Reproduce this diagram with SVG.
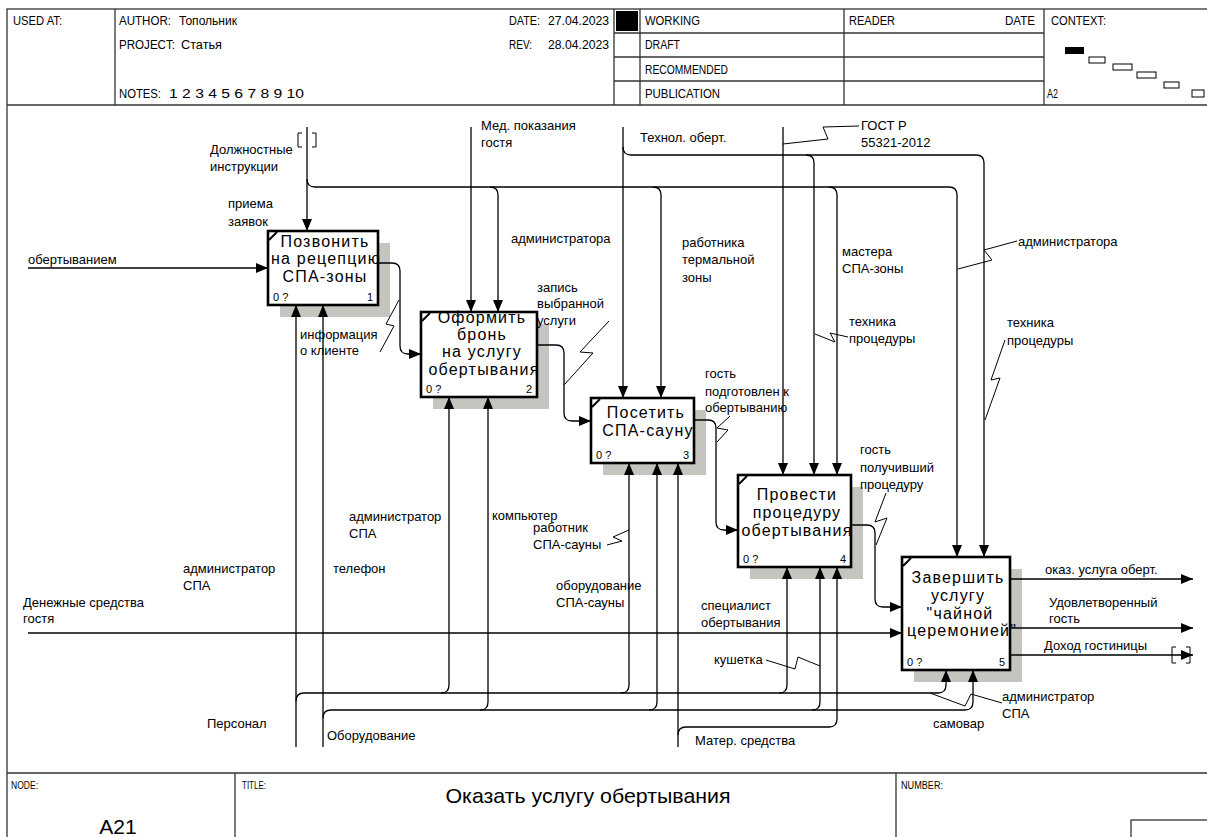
<svg xmlns="http://www.w3.org/2000/svg" width="1207" height="837" viewBox="0 0 1207 837">
<defs>
<marker id="ah" viewBox="0 0 12 10" refX="12" refY="5" markerWidth="12" markerHeight="10" markerUnits="userSpaceOnUse" orient="auto"><path d="M0,0L12,5L0,10z" fill="#000"/></marker>
<style>
.fr{fill:none;stroke:#333;stroke-width:1.3}
.ln{fill:none;stroke:#000;stroke-width:1.3}
.ar{marker-end:url(#ah)}
.sq{fill:none;stroke:#000;stroke-width:1}
.box{fill:#fff;stroke:#000;stroke-width:2.6}
.sh{fill:#c6c4be}
.cr{stroke:#000;stroke-width:2}
text{font-family:"Liberation Sans",Arial,sans-serif;fill:#000}
.bt{font-size:16px;letter-spacing:1.2px;text-anchor:middle}
.lb{font-size:13px}
.sm{font-size:11px}
.hd{font-size:12px}
.ft{font-size:10px}
</style>
</defs>
<rect x="0" y="0" width="1207" height="837" fill="#fff"/>
<g id="frame">
<rect class="fr" x="7" y="9" width="1215" height="840"/>
<line class="fr" x1="7" y1="105" x2="1207" y2="105"/>
<line class="fr" x1="115" y1="9" x2="115" y2="105"/>
<line class="fr" x1="614" y1="9" x2="614" y2="105"/>
<line class="fr" x1="640" y1="9" x2="640" y2="105"/>
<line class="fr" x1="844" y1="9" x2="844" y2="105"/>
<line class="fr" x1="1044" y1="9" x2="1044" y2="105"/>
<line class="fr" x1="614" y1="33" x2="1044" y2="33"/>
<line class="fr" x1="614" y1="57" x2="1044" y2="57"/>
<line class="fr" x1="614" y1="81" x2="1044" y2="81"/>
<rect x="616" y="11" width="22" height="20" fill="#000"/>
<line class="fr" x1="7" y1="773" x2="1207" y2="773"/>
<line class="fr" x1="235" y1="773" x2="235" y2="837"/>
<line class="fr" x1="896" y1="773" x2="896" y2="837"/>
<rect class="fr" x="1131" y="820" width="80" height="20"/>
<rect x="1065" y="47" width="19" height="7" fill="#000"/>
<rect class="sq" x="1089" y="57" width="16" height="6"/>
<rect class="sq" x="1113" y="64" width="19" height="6"/>
<rect class="sq" x="1137" y="72" width="19" height="6"/>
<rect class="sq" x="1164" y="82" width="15" height="6"/>
<rect class="sq" x="1192" y="90" width="12" height="7"/>
<text class="hd" x="13" y="25" textLength="49" lengthAdjust="spacingAndGlyphs">USED AT:</text>
<text class="hd" x="119" y="25" textLength="52" lengthAdjust="spacingAndGlyphs">AUTHOR:</text>
<text class="hd" x="179" y="25" textLength="58" lengthAdjust="spacingAndGlyphs">Топольник</text>
<text class="hd" x="119" y="49" textLength="56" lengthAdjust="spacingAndGlyphs">PROJECT:</text>
<text class="hd" x="181" y="49" textLength="41" lengthAdjust="spacingAndGlyphs">Статья</text>
<text class="hd" x="119" y="98" textLength="42" lengthAdjust="spacingAndGlyphs">NOTES:</text>
<text class="hd" x="169" y="98" textLength="135" lengthAdjust="spacingAndGlyphs">1 2 3 4 5 6 7 8 9 10</text>
<text class="hd" x="509" y="25" textLength="31" lengthAdjust="spacingAndGlyphs">DATE:</text>
<text class="hd" x="548" y="25" textLength="61" lengthAdjust="spacingAndGlyphs">27.04.2023</text>
<text class="hd" x="509" y="49" textLength="23" lengthAdjust="spacingAndGlyphs">REV:</text>
<text class="hd" x="548" y="49" textLength="61" lengthAdjust="spacingAndGlyphs">28.04.2023</text>
<text class="hd" x="645" y="25" textLength="55" lengthAdjust="spacingAndGlyphs">WORKING</text>
<text class="hd" x="645" y="49" textLength="35" lengthAdjust="spacingAndGlyphs">DRAFT</text>
<text class="hd" x="645" y="74" textLength="83" lengthAdjust="spacingAndGlyphs">RECOMMENDED</text>
<text class="hd" x="645" y="98" textLength="75" lengthAdjust="spacingAndGlyphs">PUBLICATION</text>
<text class="hd" x="849" y="25" textLength="46" lengthAdjust="spacingAndGlyphs">READER</text>
<text class="hd" x="1005" y="25" textLength="30" lengthAdjust="spacingAndGlyphs">DATE</text>
<text class="hd" x="1051" y="25" textLength="55" lengthAdjust="spacingAndGlyphs">CONTEXT:</text>
<text class="hd" x="1047" y="98" textLength="11" lengthAdjust="spacingAndGlyphs">A2</text>
<text class="ft" x="11" y="789" textLength="27" lengthAdjust="spacingAndGlyphs">NODE:</text>
<text class="ft" x="242" y="789" textLength="24" lengthAdjust="spacingAndGlyphs">TITLE:</text>
<text class="ft" x="901" y="789" textLength="42" lengthAdjust="spacingAndGlyphs">NUMBER:</text>
<text x="588" y="803" font-size="21" text-anchor="middle" textLength="285" lengthAdjust="spacingAndGlyphs">Оказать услугу обертывания</text>
<text x="118" y="834" font-size="21" text-anchor="middle">A21</text>
</g>
<g id="node1">
<rect class="sh" x="280" y="243" width="110" height="74"/>
<rect class="box" x="268" y="231" width="110" height="74"/>
<line class="cr" x1="269" y1="240" x2="277" y2="232"/>
<text class="bt" x="325" y="247">Позвонить</text>
<text class="bt" x="326" y="264">на рецепцию</text>
<text class="bt" x="325" y="282">СПА-зоны</text>
<text class="sm" x="273" y="301">0 ?</text>
<text class="sm" x="373" y="301" text-anchor="end">1</text>
</g>
<g id="node2">
<rect class="sh" x="433" y="324" width="116" height="85"/>
<rect class="box" x="421" y="312" width="116" height="85"/>
<line class="cr" x1="422" y1="321" x2="430" y2="313"/>
<text class="bt" x="482" y="323">Оформить</text>
<text class="bt" x="482" y="340">бронь</text>
<text class="bt" x="482" y="357">на услугу</text>
<text class="bt" x="484" y="375">обертывания</text>
<text class="sm" x="426" y="393">0 ?</text>
<text class="sm" x="532" y="393" text-anchor="end">2</text>
</g>
<g id="node3">
<rect class="sh" x="603" y="410" width="103" height="65"/>
<rect class="box" x="591" y="398" width="103" height="65"/>
<line class="cr" x1="592" y1="407" x2="600" y2="399"/>
<text class="bt" x="646" y="418">Посетить</text>
<text class="bt" x="648" y="436">СПА-сауну</text>
<text class="sm" x="596" y="459">0 ?</text>
<text class="sm" x="689" y="459" text-anchor="end">3</text>
</g>
<g id="node4">
<rect class="sh" x="750" y="487" width="113" height="92"/>
<rect class="box" x="738" y="475" width="113" height="92"/>
<line class="cr" x1="739" y1="484" x2="747" y2="476"/>
<text class="bt" x="797" y="500">Провести</text>
<text class="bt" x="797" y="518">процедуру</text>
<text class="bt" x="797" y="536">обертывания</text>
<text class="sm" x="743" y="563">0 ?</text>
<text class="sm" x="846" y="563" text-anchor="end">4</text>
</g>
<g id="node5">
<rect class="sh" x="914" y="569" width="108" height="113"/>
<rect class="box" x="902" y="557" width="108" height="113"/>
<line class="cr" x1="903" y1="566" x2="911" y2="558"/>
<text class="bt" x="958" y="583">Завершить</text>
<text class="bt" x="958" y="601">услугу</text>
<text class="bt" x="960" y="619">"чайной</text>
<text class="bt" x="962" y="636">церемонией"</text>
<text class="sm" x="907" y="666">0 ?</text>
<text class="sm" x="1005" y="666" text-anchor="end">5</text>
</g>
<g id="connectors">
<path class="ln ar" d="M307,127V231"/>
<path class="sq" d="M302,133h-4v14h4M312,133h4v14h-4"/>
<path class="ln ar" d="M307,179Q307,187 315,187H949Q957,187 957,195V557"/>
<path class="ln ar" d="M490,187Q498,187 498,195V312"/>
<path class="ln ar" d="M653,187Q661,187 661,195V398"/>
<path class="ln ar" d="M829,187Q837,187 837,195V475"/>
<path class="ln ar" d="M471,127V312"/>
<path class="ln ar" d="M623,127V398"/>
<path class="ln ar" d="M623,147Q623,155 631,155H976Q984,155 984,163V557"/>
<path class="ln ar" d="M806,155Q814,155 814,163V475"/>
<path class="ln ar" d="M783,127V475"/>
<path class="ln ar" d="M28,268H268"/>
<path class="ln ar" d="M378,263H392Q400,263 400,271V346Q400,354 408,354H421"/>
<path class="ln ar" d="M537,345H556Q564,345 564,353V413Q564,421 572,421H591"/>
<path class="ln ar" d="M694,420H708Q716,420 716,428V522Q716,530 724,530H738"/>
<path class="ln ar" d="M851,525H867Q875,525 875,533V599Q875,607 883,607H902"/>
<path class="ln ar" d="M28,633H902"/>
<path class="ln ar" d="M1010,579H1193"/>
<path class="ln ar" d="M1010,628H1193"/>
<path class="ln ar" d="M1010,655H1193"/>
<path class="sq" d="M1176,647h-4v16h4M1186,647h4v16h-4"/>
<path class="ln ar" d="M296,747V305"/>
<path class="ln ar" d="M296,701Q296,693 304,693H938Q946,693 946,685V670"/>
<path class="ln ar" d="M441,693Q449,693 449,685V397"/>
<path class="ln ar" d="M621,693Q629,693 629,685V463"/>
<path class="ln ar" d="M779,693Q787,693 787,685V567"/>
<path class="ln ar" d="M323,747V305"/>
<path class="ln ar" d="M323,718Q323,710 331,710H965Q973,710 973,702V670"/>
<path class="ln ar" d="M480,710Q488,710 488,702V397"/>
<path class="ln ar" d="M649,710Q657,710 657,702V463"/>
<path class="ln ar" d="M812,710Q820,710 820,702V567"/>
<path class="ln ar" d="M678,747V463"/>
<path class="ln ar" d="M678,735Q678,727 686,727H829Q837,727 837,719V567"/>
<polyline class="sq" points="859,126 823,127 828,139 783,144"/>
<polyline class="sq" points="380,352 394,326 386,324 399,300"/>
<polyline class="sq" points="609,321 580,352 593,353 564,385"/>
<polyline class="sq" points="730,416 717,428 728,430 717,442"/>
<polyline class="sq" points="886,493 875,522 887,518 876,545"/>
<polyline class="sq" points="815,334 835,342 830,333 848,337"/>
<polyline class="sq" points="1005,340 991,380 1000,378 985,420"/>
<polyline class="sq" points="1017,241 984,250 992,260 958,269"/>
<polyline class="sq" points="607,545 622,541 613,537 629,530"/>
<polyline class="sq" points="766,660 795,669 798,657 820,666"/>
<polyline class="sq" points="930,693 965,706 971,694 1002,703"/>
</g>
<g id="labels">
<text class="lb" x="210" y="154">Должностные</text>
<text class="lb" x="210" y="171">инструкции</text>
<text class="lb" x="228" y="208">приема</text>
<text class="lb" x="228" y="226">заявок</text>
<text class="lb" x="28" y="264">обертыванием</text>
<text class="lb" x="300" y="339">информация</text>
<text class="lb" x="300" y="355">о клиенте</text>
<text class="lb" x="481" y="130">Мед. показания</text>
<text class="lb" x="481" y="147">гостя</text>
<text class="lb" x="640" y="142">Технол. оберт.</text>
<text class="lb" x="861" y="130">ГОСТ Р</text>
<text class="lb" x="861" y="147">55321-2012</text>
<text class="lb" x="511" y="243">администратора</text>
<text class="lb" x="682" y="247">работника</text>
<text class="lb" x="682" y="264">термальной</text>
<text class="lb" x="682" y="282">зоны</text>
<text class="lb" x="842" y="256">мастера</text>
<text class="lb" x="842" y="273">СПА-зоны</text>
<text class="lb" x="1018" y="246">администратора</text>
<text class="lb" x="537" y="292">запись</text>
<text class="lb" x="537" y="308">выбранной</text>
<text class="lb" x="537" y="325">услуги</text>
<text class="lb" x="849" y="326">техника</text>
<text class="lb" x="849" y="343">процедуры</text>
<text class="lb" x="1007" y="327">техника</text>
<text class="lb" x="1007" y="345">процедуры</text>
<text class="lb" x="705" y="378">гость</text>
<text class="lb" x="705" y="396">подготовлен к</text>
<text class="lb" x="705" y="412">обертыванию</text>
<text class="lb" x="860" y="454">гость</text>
<text class="lb" x="860" y="472">получивший</text>
<text class="lb" x="860" y="489">процедуру</text>
<text class="lb" x="349" y="521">администратор</text>
<text class="lb" x="349" y="538">СПА</text>
<text class="lb" x="492" y="520">компьютер</text>
<text class="lb" x="533" y="532">работник</text>
<text class="lb" x="533" y="549">СПА-сауны</text>
<text class="lb" x="183" y="573">администратор</text>
<text class="lb" x="183" y="590">СПА</text>
<text class="lb" x="333" y="573">телефон</text>
<text class="lb" x="23" y="607">Денежные средства</text>
<text class="lb" x="23" y="623">гостя</text>
<text class="lb" x="556" y="590">оборудование</text>
<text class="lb" x="556" y="607">СПА-сауны</text>
<text class="lb" x="701" y="610">специалист</text>
<text class="lb" x="701" y="627">обертывания</text>
<text class="lb" x="714" y="664">кушетка</text>
<text class="lb" x="207" y="728">Персонал</text>
<text class="lb" x="327" y="740">Оборудование</text>
<text class="lb" x="695" y="745">Матер. средства</text>
<text class="lb" x="1045" y="574">оказ. услуга оберт.</text>
<text class="lb" x="1049" y="607">Удовлетворенный</text>
<text class="lb" x="1049" y="623">гость</text>
<text class="lb" x="1044" y="650">Доход гостиницы</text>
<text class="lb" x="1002" y="701">администратор</text>
<text class="lb" x="1002" y="718">СПА</text>
<text class="lb" x="933" y="728">самовар</text>
</g>
</svg>
